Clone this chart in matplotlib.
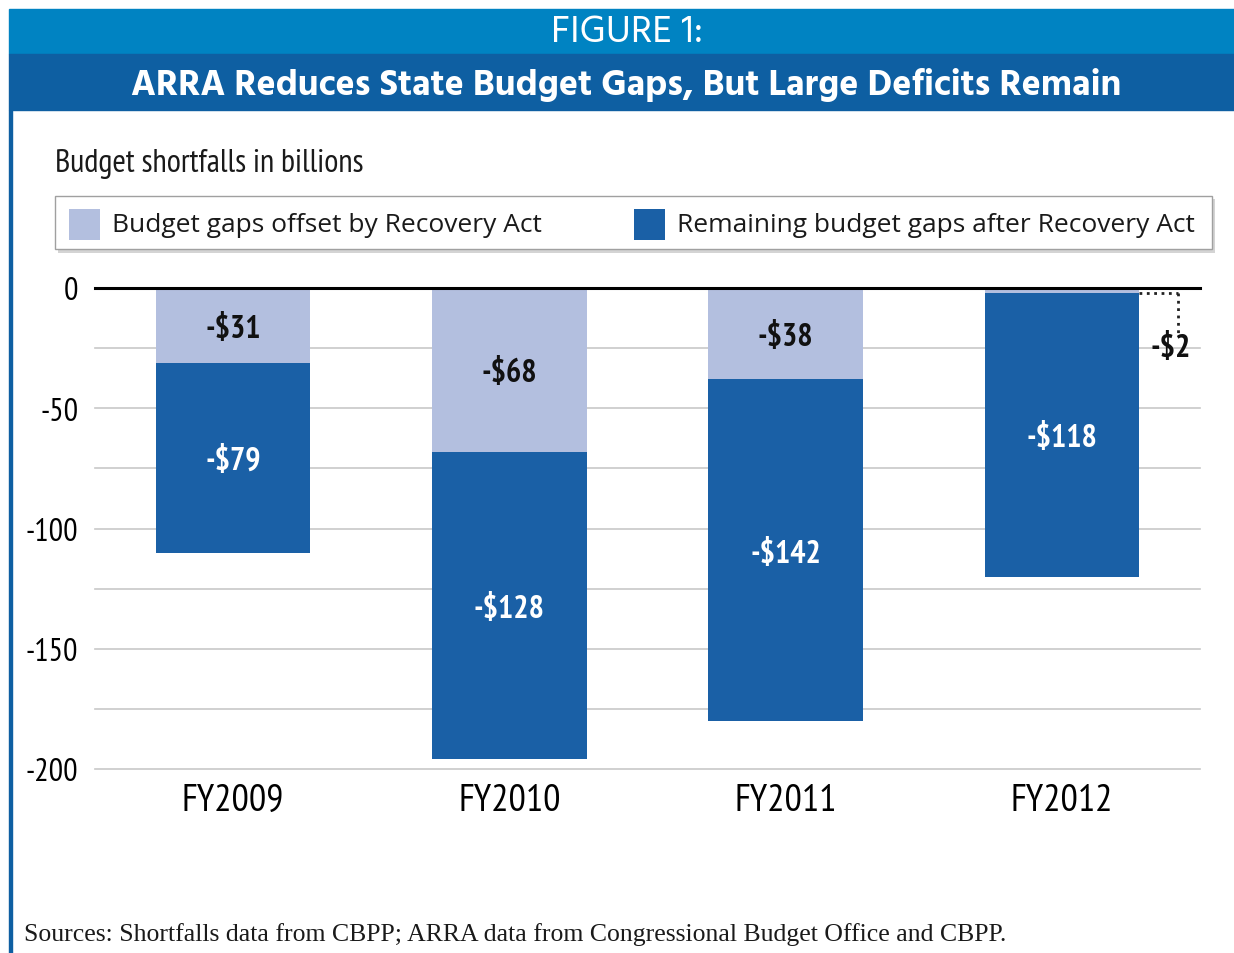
import matplotlib
matplotlib.use("Agg")
import matplotlib.pyplot as plt
from matplotlib.patches import Rectangle
import numpy as np

# ---- data ----
years = ["FY2009", "FY2010", "FY2011", "FY2012"]
offset_by_arra = [31, 68, 38, 2]
remaining_gaps = [79, 128, 142, 118]
legend_labels = ["Budget gaps offset by Recovery Act", "Remaining budget gaps after Recovery Act"]
yticks = [0, -50, -100, -150, -200]

LIGHT = "#B3BFDF"
DARK = "#1A60A6"
BAND1 = "#0083C2"
BAND2 = "#0E5FA2"
NARROW = ["PT Sans Narrow", "DejaVu Sans"]
SANS = ["Open Sans", "DejaVu Sans"]
TITLE = ["Hind", "Open Sans", "DejaVu Sans"]
SERIF = ["Liberation Serif", "DejaVu Serif"]

W, H = 1234, 954
fig = plt.figure(figsize=(W / 100, H / 100), dpi=100)
fig.patch.set_facecolor("white")

def fx(px):
    return px / W

def fy(py):
    return 1 - py / H

# header bands
fig.patches.append(Rectangle((fx(9), fy(55)), fx(W - 9), (55 - 10) / H,
                             transform=fig.transFigure, color=BAND1, zorder=0))
fig.patches.append(Rectangle((fx(9), fy(111)), fx(W - 9), (111 - 55) / H,
                             transform=fig.transFigure, color=BAND2, zorder=0))
# left border
fig.patches.append(Rectangle((fx(9), 0), fx(2.5), fy(111),
                             transform=fig.transFigure, color=BAND2, zorder=0))

fig.text(fx(627), fy(32), "FIGURE 1:", color="white", fontsize=28,
         family=TITLE, ha="center", va="center")
fig.text(fx(626), fy(85), "ARRA Reduces State Budget Gaps, But Large Deficits Remain",
         color="white", fontsize=26, fontweight="bold", family=TITLE,
         ha="center", va="center")

fig.text(fx(55), fy(164), "Budget shortfalls in billions", fontsize=23.3,
         family=NARROW, ha="left", va="center", color="#1a1a1a")

# legend box (manual)
fig.patches.append(Rectangle((fx(58), fy(254)), fx(1157), (254 - 200) / H,
                             transform=fig.transFigure, facecolor="#d4d4d4",
                             edgecolor="none", zorder=1))
fig.patches.append(Rectangle((fx(55), fy(250)), fx(1157), (250 - 197) / H,
                             transform=fig.transFigure, facecolor="white",
                             edgecolor="#a0a0a0", linewidth=1, zorder=2))
for (sx, tx), lab, col in zip([(69, 112), (634, 677)], legend_labels, [LIGHT, DARK]):
    fig.patches.append(Rectangle((fx(sx), fy(241)), fx(31), 31 / H,
                                 transform=fig.transFigure, facecolor=col,
                                 edgecolor="none", zorder=3))
    fig.text(fx(tx), fy(226), lab, fontsize=19, family=SANS, ha="left",
             va="center", color="#1a1a1a", zorder=4)

# axes
ax = fig.add_axes([fx(95), fy(770), fx(1200 - 95), (770 - 289) / H])
x = np.arange(len(years))
width = 0.56
off = -np.array(offset_by_arra)
rem = -np.array(remaining_gaps)
ax.bar(x, off, width, color=LIGHT, zorder=2)
ax.bar(x, rem, width, bottom=off, color=DARK, zorder=2)

ax.set_xlim(-0.5, 3.5)
ax.set_ylim(-200, 0)
grid_vals = np.arange(-200, 1, 25)
ax.set_yticks(yticks)
ax.set_yticklabels([str(v) for v in yticks])
for g in grid_vals:
    ax.axhline(g, color="#c8c8c8", linewidth=1.2, zorder=0, clip_on=False)
ax.tick_params(axis="y", length=0, pad=12, labelsize=23)
for lbl in ax.get_yticklabels():
    lbl.set_family(NARROW)
ax.set_xticks(x)
ax.set_xticklabels(years, fontsize=27.5, family=NARROW)
ax.tick_params(axis="x", length=0, pad=10)
for s in ax.spines.values():
    s.set_visible(False)
ax.axhline(0, color="black", linewidth=2.2, zorder=5, clip_on=False)
ax.set_facecolor("none")

for i in range(len(years)):
    o = offset_by_arra[i]
    r = remaining_gaps[i]
    if o >= 10:
        ax.text(x[i], -o / 2, f"-${o}", ha="center", va="center_baseline", fontsize=23,
                fontweight="bold", family=NARROW, color="#111111", zorder=6)
    else:
        xr = x[i] + width / 2
        xd = x[i] + 0.42
        ax.plot([xr, xd], [-o, -o], color="#222222", linestyle=":", linewidth=2,
                zorder=6, clip_on=False)
        ax.plot([xd, xd], [-o, -19], color="#222222", linestyle=":", linewidth=2,
                zorder=6, clip_on=False)
        ax.text(xd - 0.025, -23.5, f"-${o}", ha="center", va="center_baseline", fontsize=23,
                fontweight="bold", family=NARROW, color="#111111", zorder=6)
    ax.text(x[i], -o - r / 2, f"-${r}", ha="center", va="center_baseline", fontsize=23,
            fontweight="bold", family=NARROW, color="white", zorder=6)

fig.text(fx(24), fy(935), "Sources: Shortfalls data from CBPP; ARRA data from Congressional Budget Office and CBPP.",
         fontsize=18.5, family=SERIF, ha="left", va="center", color="#1a1a1a")

fig.savefig("out.png", dpi=100)
